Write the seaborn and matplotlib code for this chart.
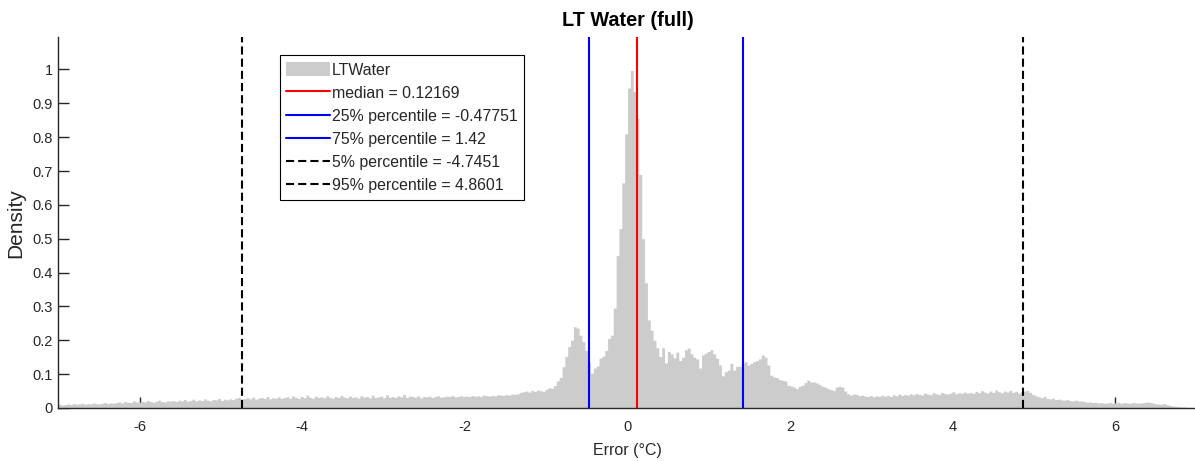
import numpy as np
import pandas as pd
import matplotlib
matplotlib.use("Agg")
import matplotlib.pyplot as plt
from matplotlib.patches import Patch
import seaborn as sns

# Histogram density per bin (bin width 0.035, from -7 to 7), grouped by region
density_far_left = [
    0.011, 0.009, 0.010, 0.012, 0.010, 0.013, 0.011, 0.012, 0.014, 0.011,
    0.013, 0.012, 0.015, 0.013, 0.012, 0.014, 0.016, 0.013, 0.015, 0.014,
    0.016, 0.018, 0.015, 0.019, 0.017, 0.016, 0.021, 0.018, 0.017, 0.020,
    0.018, 0.022, 0.019, 0.017, 0.020, 0.023, 0.019, 0.018, 0.021, 0.020,
    0.022, 0.019, 0.023, 0.021, 0.025, 0.020, 0.022, 0.026, 0.021, 0.024,
    0.022, 0.027, 0.023, 0.021, 0.025, 0.024, 0.028, 0.022, 0.026, 0.024,
]
density_left_tail = [
    0.027, 0.025, 0.029, 0.031, 0.026, 0.028, 0.030, 0.027, 0.032, 0.026,
    0.029, 0.031, 0.028, 0.034, 0.027, 0.030, 0.029, 0.033, 0.028, 0.031,
    0.033, 0.029, 0.036, 0.031, 0.028, 0.034, 0.030, 0.038, 0.032, 0.029,
    0.035, 0.031, 0.033, 0.030, 0.036, 0.032, 0.029, 0.034, 0.031, 0.037,
    0.032, 0.030, 0.035, 0.031, 0.033, 0.029, 0.036, 0.032, 0.034, 0.030,
    0.038, 0.031, 0.033, 0.035, 0.030, 0.039, 0.032, 0.034, 0.031, 0.036,
    0.033, 0.040, 0.031, 0.035, 0.034, 0.032, 0.036, 0.030, 0.034, 0.033,
    0.035, 0.031, 0.034, 0.036, 0.032, 0.033, 0.035, 0.034, 0.037, 0.033,
    0.034, 0.036, 0.033, 0.035, 0.034, 0.037, 0.035, 0.036, 0.034, 0.038,
    0.036, 0.035, 0.037, 0.036, 0.039, 0.038, 0.037, 0.040, 0.038, 0.041,
]
density_shoulder = [
    0.040, 0.042, 0.046, 0.048, 0.050, 0.047, 0.052, 0.049, 0.053, 0.051,
    0.049, 0.055, 0.060, 0.058, 0.066, 0.080, 0.090, 0.122, 0.152, 0.182,
    0.200, 0.240, 0.236, 0.215, 0.196, 0.170, 0.135, 0.103, 0.118, 0.124,
    0.147, 0.153, 0.170, 0.205, 0.215, 0.295, 0.450, 0.530, 0.665, 0.810,
]
density_peak = [
    0.945, 0.997, 0.935, 0.855, 0.690, 0.500, 0.370, 0.260, 0.230, 0.200,
    0.178, 0.152, 0.178, 0.133, 0.167, 0.160, 0.148, 0.165, 0.140, 0.150,
]
density_plateau = [
    0.172, 0.177, 0.160, 0.150, 0.145, 0.118, 0.157, 0.162, 0.167, 0.172,
    0.160, 0.147, 0.127, 0.095, 0.107, 0.112, 0.132, 0.112, 0.123, 0.123,
    0.132, 0.137, 0.127, 0.132, 0.137, 0.140, 0.145, 0.157, 0.150, 0.127,
    0.097, 0.092, 0.090, 0.084, 0.082, 0.080, 0.067, 0.065, 0.062, 0.057,
    0.064, 0.067, 0.075, 0.082, 0.077, 0.077, 0.074, 0.070, 0.064, 0.062,
    0.057, 0.054, 0.052, 0.062, 0.064, 0.062, 0.050, 0.042, 0.038, 0.041,
]
density_right_tail = [
    0.040, 0.036, 0.038, 0.035, 0.034, 0.037, 0.033, 0.036, 0.034, 0.038,
    0.035, 0.037, 0.034, 0.039, 0.036, 0.041, 0.037, 0.040, 0.038, 0.042,
    0.039, 0.043, 0.040, 0.038, 0.044, 0.041, 0.039, 0.045, 0.042, 0.040,
    0.046, 0.043, 0.041, 0.044, 0.048, 0.042, 0.045, 0.043, 0.047, 0.044,
    0.046, 0.043, 0.049, 0.045, 0.051, 0.047, 0.044, 0.050, 0.046, 0.053,
    0.048, 0.045, 0.050, 0.047, 0.052, 0.046, 0.049, 0.044, 0.048, 0.050,
    0.052, 0.046, 0.040, 0.036, 0.033, 0.030, 0.034, 0.028, 0.027, 0.029,
    0.025, 0.026, 0.024, 0.023, 0.025, 0.022, 0.021, 0.023, 0.020, 0.021,
    0.019, 0.017, 0.018, 0.016, 0.017, 0.015, 0.016, 0.014, 0.015, 0.016,
    0.014, 0.015, 0.017, 0.014, 0.016, 0.015, 0.014, 0.016, 0.015, 0.014,
    0.015, 0.016, 0.018, 0.017, 0.015, 0.013, 0.012, 0.011, 0.013, 0.010,
    0.008, 0.006, 0.005, 0.004, 0.003, 0.003, 0.002, 0.002, 0.001, 0.001,
]

# Summary statistics of the error distribution
median_value = 0.12169
p25_value = -0.47751
p75_value = 1.42
p05_value = -4.7451
p95_value = 4.8601

x_ticks = [-6, -4, -2, 0, 2, 4, 6]
y_ticks = [0, 0.1, 0.2, 0.3, 0.4, 0.5, 0.6, 0.7, 0.8, 0.9, 1]

heights = np.array(density_far_left + density_left_tail + density_shoulder
                   + density_peak + density_plateau + density_right_tail)
bin_edges = np.linspace(-7, 7, len(heights) + 1)
bin_centers = 0.5 * (bin_edges[:-1] + bin_edges[1:])
hist_df = pd.DataFrame({"error": bin_centers, "density": heights})

sns.set_style("white")
plt.rcParams["font.family"] = ["Liberation Sans", "DejaVu Sans"]
plt.rcParams["axes.unicode_minus"] = False

axis_color = "#262626"
hist_color = "#cccccc"

fig = plt.figure(figsize=(11.95, 4.61), dpi=100)
ax = fig.add_axes([0.0487, 0.115, 0.9528, 0.8041])

sns.histplot(data=hist_df, x="error", weights="density", bins=bin_edges.tolist(),
             stat="count", element="step", fill=True, color=hist_color,
             alpha=1.0, linewidth=0, ax=ax)

line_kw = dict(linewidth=1.5, zorder=3)
dash = (0, (3.9, 1.95))
ax.axvline(median_value, color="#ff0000", label=f"median = {median_value:g}", **line_kw)
ax.axvline(p25_value, color="#0000ff", label=f"25% percentile = {p25_value:g}", **line_kw)
ax.axvline(p75_value, color="#0000ff", label=f"75% percentile = {p75_value:g}", **line_kw)
ax.axvline(p05_value, color="black", linestyle=dash,
           label=f"5% percentile = {p05_value:g}", **line_kw)
ax.axvline(p95_value, color="black", linestyle=dash,
           label=f"95% percentile = {p95_value:g}", **line_kw)

ax.set_xlim(-7, 7)
ax.set_ylim(0, 1.095)
ax.set_xticks(x_ticks)
ax.set_xticklabels([f"{t:g}" for t in x_ticks])
ax.set_yticks(y_ticks)
ax.set_yticklabels([f"{t:g}" for t in y_ticks])

ax.set_axisbelow(True)
ax.tick_params(axis="both", direction="in", length=8, width=1.0,
               colors=axis_color, labelsize=10.5, bottom=True, left=True,
               top=False, right=False)
ax.tick_params(axis="x", pad=9)
ax.tick_params(axis="y", pad=4)
for side in ("top", "right"):
    ax.spines[side].set_visible(False)
for side in ("left", "bottom"):
    ax.spines[side].set_color(axis_color)
    ax.spines[side].set_linewidth(1.0)

ax.set_xlabel("Error (°C)", fontsize=11.5, color=axis_color, labelpad=6)
ax.set_ylabel("Density", fontsize=15, color=axis_color, labelpad=5)
ax.set_title("LT Water (full)", fontsize=14.3, fontweight="bold", color="black", pad=8)

handles, labels = ax.get_legend_handles_labels()
hist_handle = Patch(facecolor=hist_color, edgecolor="none", label="LTWater")
leg = ax.legend(handles=[hist_handle] + handles, labels=["LTWater"] + labels,
                loc="upper left", bbox_to_anchor=(0.1944, 0.951),
                borderaxespad=0, fontsize=11.4, frameon=True, fancybox=False,
                framealpha=1, edgecolor="black", handlelength=2.8,
                handletextpad=0.12, labelspacing=0.47, borderpad=0.4,
                handleheight=1.05)
leg.get_frame().set_linewidth(0.8)

fig.savefig("out.png", dpi=100)
